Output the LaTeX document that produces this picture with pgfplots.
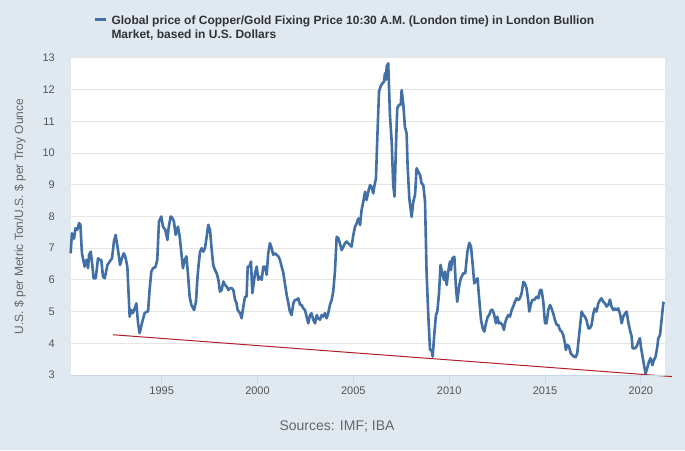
\documentclass[border=0pt]{standalone}
\usepackage{pgfplots}
\pgfplotsset{compat=1.18}
\usepackage{fontspec}
\setmainfont{Liberation Sans}
\definecolor{bgc}{RGB}{224,232,240}
\definecolor{lineblue}{RGB}{66,112,166}
\definecolor{trendred}{RGB}{178,30,40}
\definecolor{gridc}{RGB}{230,230,230}
\definecolor{axc}{RGB}{204,214,235}
\definecolor{tickc}{RGB}{85,85,85}
\definecolor{titc}{RGB}{102,102,102}
\definecolor{legc}{RGB}{51,51,51}
\begin{document}
\begin{tikzpicture}[x=1pt,y=1pt]
\fill[bgc] (0,0) rectangle (685,450);
\useasboundingbox (0,0) rectangle (685,450);
\begin{axis}[
  at={(71pt,75pt)}, anchor=south west,
  scale only axis, width=594pt, height=317pt,
  xmin=1990.27, xmax=2021.26, ymin=3, ymax=13,
  clip=false,
  axis background/.style={fill=white},
  axis line style={draw=none},
  xtick={1995,2000,2005,2010,2015,2020},
  ytick={3,4,5,6,7,8,9,10,11,12,13},
  xticklabel style={/pgf/number format/1000 sep={}, font=\fontsize{11}{13}\selectfont, color=tickc, inner sep=0pt, yshift=-4pt},
  yticklabel style={font=\fontsize{11}{13}\selectfont, color=tickc, inner sep=0pt, anchor=east, xshift=-8pt},
  /pgf/number format/assume math mode=true,
  tick align=outside, major tick length=8pt,
  xtick pos=bottom, ytick pos=left,
  x tick style={draw=axc, line width=1pt},
  y tick style={draw=none},
  ymajorgrids, major grid style={draw=gridc, line width=1pt},
  ylabel={U.S. \$ per Metric Ton/U.S. \$ per Troy Ounce},
  every axis y label/.style={at={(axis description cs:0,0.5)}, xshift=-51pt, rotate=90, anchor=center, font=\fontsize{12}{14}\selectfont, color=titc},
  legend style={at={(axis description cs:0,1)}, anchor=north west, xshift=22.5pt, yshift=44.2pt,
    draw=none, fill=none, inner sep=0pt, outer sep=0pt, column sep=4pt,
    nodes={inner sep=0pt, text depth=0pt},
    cells={anchor=base west},
    font=\bfseries\fontsize{12}{14.7}\selectfont, text=legc},
  legend image code/.code={\draw[#1, line width=3pt] (0pt,4.3pt) -- (11pt,4.3pt);},
]
\addplot[lineblue, line width=2.6pt, line join=round] table {
1990.25 6.84
1990.32 7.47
1990.43 7.30
1990.50 7.63
1990.60 7.58
1990.69 7.79
1990.76 7.74
1990.84 6.84
1990.98 6.42
1991.07 6.63
1991.16 6.37
1991.21 6.79
1991.30 6.89
1991.37 6.53
1991.45 6.05
1991.56 6.05
1991.68 6.68
1991.77 6.63
1991.85 6.63
1991.94 6.10
1992.03 6.05
1992.17 6.47
1992.29 6.58
1992.41 6.68
1992.51 7.21
1992.60 7.42
1992.72 6.95
1992.83 6.47
1992.93 6.68
1993.02 6.84
1993.10 6.74
1993.21 6.42
1993.33 4.84
1993.42 5.05
1993.50 4.95
1993.59 5.10
1993.68 5.26
1993.77 4.63
1993.85 4.32
1993.97 4.63
1994.11 4.95
1994.22 5.00
1994.29 5.00
1994.37 5.68
1994.46 6.26
1994.55 6.37
1994.67 6.40
1994.77 6.63
1994.86 7.84
1994.98 8.00
1995.07 7.68
1995.19 7.58
1995.30 7.26
1995.36 7.63
1995.47 8.00
1995.56 7.95
1995.64 7.84
1995.73 7.42
1995.85 7.68
1995.94 7.37
1996.03 6.84
1996.11 6.37
1996.20 6.63
1996.29 6.74
1996.37 6.21
1996.46 5.47
1996.55 5.21
1996.69 5.05
1996.79 5.31
1996.86 6.00
1996.91 6.37
1997.00 6.89
1997.09 7.00
1997.17 6.89
1997.26 7.00
1997.35 7.37
1997.43 7.74
1997.52 7.58
1997.61 6.95
1997.69 6.47
1997.78 6.32
1997.87 6.21
1997.96 6.00
1998.04 5.63
1998.13 5.68
1998.22 5.95
1998.30 5.84
1998.39 5.79
1998.48 5.68
1998.56 5.74
1998.65 5.74
1998.74 5.68
1998.83 5.37
1998.91 5.26
1998.96 5.05
1999.09 4.95
1999.17 4.79
1999.26 5.16
1999.35 5.47
1999.43 5.47
1999.49 6.42
1999.57 6.42
1999.66 6.58
1999.73 5.58
1999.78 5.79
1999.87 6.21
1999.96 6.42
2000.04 6.00
2000.13 6.10
2000.22 6.00
2000.30 6.42
2000.39 6.42
2000.48 6.16
2000.56 6.84
2000.65 7.16
2000.74 7.00
2000.82 6.79
2000.91 6.84
2001.00 6.79
2001.09 6.74
2001.17 6.63
2001.26 6.42
2001.35 6.21
2001.43 5.89
2001.52 5.53
2001.61 5.26
2001.69 5.00
2001.78 4.89
2001.87 5.26
2001.95 5.37
2002.04 5.37
2002.13 5.42
2002.22 5.21
2002.30 5.21
2002.39 5.10
2002.48 5.05
2002.56 4.84
2002.65 4.63
2002.74 4.89
2002.82 4.95
2002.91 4.74
2003.00 4.63
2003.09 4.89
2003.17 4.79
2003.26 4.74
2003.35 4.89
2003.43 4.84
2003.52 4.95
2003.61 4.79
2003.69 4.95
2003.78 5.21
2003.87 5.37
2003.95 5.63
2004.04 6.26
2004.13 7.36
2004.22 7.31
2004.30 7.15
2004.39 6.94
2004.48 7.05
2004.56 7.15
2004.65 7.21
2004.74 7.15
2004.91 7.05
2005.00 7.42
2005.09 7.68
2005.17 7.78
2005.26 7.94
2005.35 7.73
2005.43 8.20
2005.52 8.47
2005.61 8.78
2005.69 8.52
2005.78 8.78
2005.87 8.99
2005.95 8.94
2006.04 8.73
2006.09 8.94
2006.18 9.20
2006.25 10.47
2006.34 11.94
2006.42 12.10
2006.51 12.20
2006.60 12.25
2006.65 12.52
2006.70 12.31
2006.74 12.73
2006.82 12.83
2006.91 11.20
2007.00 10.36
2007.08 8.99
2007.15 8.63
2007.22 10.15
2007.29 11.41
2007.38 11.52
2007.47 11.52
2007.52 11.99
2007.61 11.52
2007.69 10.83
2007.78 10.62
2007.83 9.62
2007.92 8.57
2008.04 7.99
2008.13 8.47
2008.22 8.68
2008.30 9.52
2008.39 9.41
2008.48 9.31
2008.56 9.05
2008.65 8.99
2008.74 8.47
2008.82 6.26
2008.91 4.89
2009.00 3.79
2009.08 3.79
2009.14 3.58
2009.22 4.26
2009.31 4.89
2009.38 5.00
2009.47 5.58
2009.55 6.47
2009.64 6.20
2009.73 6.00
2009.78 6.26
2009.87 5.84
2009.95 6.26
2010.04 6.58
2010.09 6.31
2010.16 6.68
2010.27 6.73
2010.35 5.79
2010.42 5.31
2010.53 5.84
2010.61 6.05
2010.74 6.21
2010.84 6.21
2010.95 6.89
2011.05 7.17
2011.14 7.05
2011.22 6.52
2011.31 5.89
2011.40 6.00
2011.48 6.05
2011.57 5.37
2011.66 4.74
2011.75 4.47
2011.83 4.37
2011.92 4.63
2012.01 4.84
2012.09 4.89
2012.18 5.05
2012.27 5.05
2012.35 4.89
2012.44 4.63
2012.51 4.84
2012.60 4.63
2012.68 4.65
2012.77 4.58
2012.86 4.42
2012.91 4.63
2013.00 4.79
2013.08 4.89
2013.17 4.84
2013.26 5.05
2013.34 5.16
2013.43 5.31
2013.52 5.42
2013.61 5.37
2013.69 5.42
2013.78 5.58
2013.87 5.94
2013.95 5.89
2014.04 5.73
2014.13 5.31
2014.18 5.00
2014.25 5.21
2014.34 5.37
2014.44 5.37
2014.56 5.47
2014.65 5.42
2014.74 5.68
2014.82 5.68
2014.91 5.31
2015.00 4.63
2015.08 4.63
2015.17 5.05
2015.26 5.21
2015.34 5.10
2015.43 4.94
2015.52 4.73
2015.61 4.58
2015.69 4.58
2015.78 4.42
2015.87 4.37
2015.95 4.26
2016.04 4.00
2016.09 3.79
2016.16 3.95
2016.25 3.90
2016.34 3.68
2016.42 3.63
2016.51 3.58
2016.60 3.56
2016.68 3.68
2016.77 4.21
2016.86 4.73
2016.91 5.00
2017.00 4.89
2017.08 4.84
2017.17 4.73
2017.26 4.47
2017.34 4.47
2017.43 4.58
2017.52 4.94
2017.60 5.10
2017.69 5.00
2017.78 5.26
2017.87 5.37
2017.95 5.42
2018.04 5.31
2018.13 5.26
2018.21 5.16
2018.30 5.21
2018.39 5.38
2018.47 5.16
2018.56 5.05
2018.65 5.10
2018.73 5.05
2018.82 5.10
2018.91 4.94
2019.00 4.63
2019.08 4.84
2019.17 4.94
2019.26 5.00
2019.34 4.68
2019.43 4.42
2019.52 4.21
2019.57 3.84
2019.69 3.84
2019.78 3.90
2019.87 4.05
2019.95 4.16
2020.00 3.90
2020.09 3.58
2020.18 3.26
2020.25 3.05
2020.33 3.21
2020.42 3.42
2020.51 3.53
2020.60 3.31
2020.68 3.47
2020.77 3.58
2020.86 3.90
2020.91 4.16
2021.00 4.26
2021.08 4.73
2021.17 5.26
2021.20 5.31
};
\addlegendentry{\begin{tabular}[t]{@{}l@{}}Global price of Copper/Gold Fixing Price 10:30 A.M. (London time) in London Bullion\\Market, based in U.S. Dollars\end{tabular}}
\addplot[trendred, line width=1pt, forget plot] coordinates {(1992.45,4.27) (2021.62,2.95)};
\draw[axc, line width=1pt] (rel axis cs:0,0) -- (rel axis cs:1,0);
\end{axis}
\node[anchor=base, font=\fontsize{14}{16}\selectfont, text=titc] at (337,19.3) {Sources: IMF; IBA};
\end{tikzpicture}
\end{document}
